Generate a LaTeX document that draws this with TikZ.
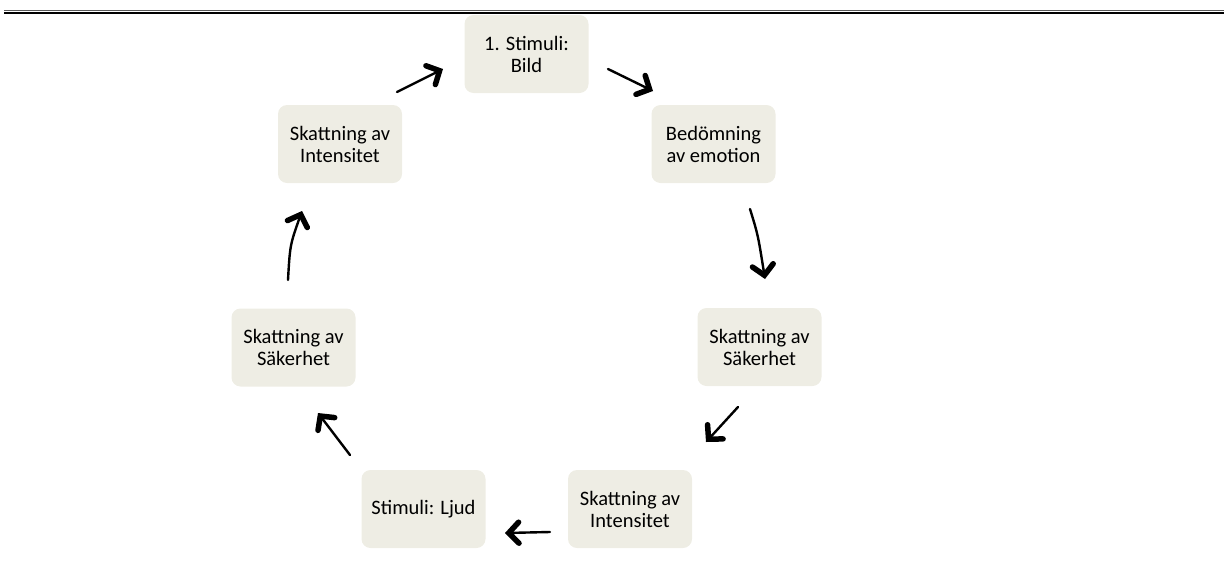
\documentclass[tikz,border=0pt]{standalone}
\usepackage{fontspec}
\setmainfont{Carlito}
\usetikzlibrary{arrows.meta}
\definecolor{boxfill}{RGB}{238,237,228}
\begin{document}
\begin{tikzpicture}[x=1pt,y=-1pt,
  stepbox/.style={fill=boxfill, rounded corners=9pt, minimum width=124pt, minimum height=78pt,
    align=center, inner sep=0pt, font=\fontsize{20.5}{22}\selectfont},
  flow/.style={line width=2.4pt, line cap=round,
    -{Straight Barb[length=10pt,width=21pt,line width=5.5pt,line cap=round]}}]
\useasboundingbox (0,0) rectangle (1224,584);
\draw[line width=2.2pt] (4,13) -- (1224,13);
\draw[line width=0.6pt, gray!70!black] (4,10.3) -- (1224,10.3);

\node[stepbox] (b1) at (526.5,54) {1. Stimuli:\\Bild};
\node[stepbox] (b2) at (713.5,144) {Bedömning\\av emotion};
\node[stepbox] (b3) at (759.5,347) {Skattning av\\Säkerhet};
\node[stepbox] (b4) at (630,509) {Skattning av\\Intensitet};
\node[stepbox] (b5) at (423.5,509) {Stimuli: Ljud};
\node[stepbox] (b6) at (293.5,347.5) {Skattning av\\Säkerhet};
\node[stepbox] (b7) at (340,144) {Skattning av\\Intensitet};

\coordinate (t1) at (397,92);  \coordinate (h1) at (443,69);
\coordinate (t2) at (608,69);  \coordinate (h2) at (653,91);
\coordinate (t3) at (750,209); \coordinate (h3) at (765,279);
\coordinate (t4) at (738,407); \coordinate (h4) at (706,442);
\coordinate (t5) at (550,532); \coordinate (h5) at (505,533);
\coordinate (t6) at (350,455); \coordinate (h6) at (318,413);
\coordinate (t7) at (288,280); \coordinate (h7) at (302,211);

\draw[flow] (t1) -- (h1);
\draw[flow] (t2) -- (h2);
\draw[flow] (t3) .. controls (758,235) .. (h3);
\draw[flow] (t4) -- (h4);
\draw[flow] (t5) -- (h5);
\draw[flow] (t6) -- (h6);
\draw[flow] (t7) .. controls (290,245) .. (h7);
\end{tikzpicture}
\end{document}
